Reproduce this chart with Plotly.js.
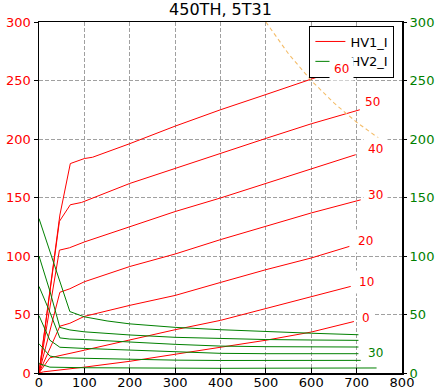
<!DOCTYPE html>
<html>
<head>
<meta charset="utf-8">
<script src="https://cdn.plot.ly/plotly-3.0.1.min.js"></script>
<style>html,body{margin:0;padding:0;background:#fff;}#chart{width:440px;height:391px;}</style>
</head>
<body>
<div id="chart"></div>
<script>
// HV1_I curves (red, left axis)
const r0x  = [0, 10, 100, 200, 300, 400, 500, 600, 694];
const r0y  = [0, 1, 5, 10, 16, 22, 28, 35, 44];
const r10x = [0, 24, 100, 200, 300, 400, 500, 600, 687];
const r10y = [0, 13, 19.5, 28.5, 37, 45, 55, 65, 74];
const r20x = [0, 46, 68, 100, 200, 300, 400, 500, 600, 684];
const r20y = [0, 40, 42.5, 48.4, 57.8, 66.3, 77.4, 88.3, 98.3, 108.2];
const r30x = [0, 46, 68, 100, 200, 300, 400, 500, 600, 709];
const r30y = [0, 69, 72, 78, 91, 101.7, 114, 125.3, 136.8, 148];
const r40x = [0, 45, 67, 100, 200, 300, 400, 500, 600, 698];
const r40y = [0, 105, 107, 112, 125, 138, 149.6, 162, 174, 186.6];
const r50x = [0, 45, 69, 94, 200, 300, 400, 500, 600, 707];
const r50y = [0, 129.6, 143.8, 145.8, 162, 175, 188, 200.5, 213, 225];
const r60x = [0, 46, 69, 100, 118, 200, 300, 400, 500, 600, 629];
const r60y = [0, 135, 179, 183.3, 184.4, 196, 211, 225, 238, 251, 255];

// HV2_I curves (green, right axis)
const g1x = [0, 24, 46, 68, 100, 150, 200, 300, 400, 500, 600, 704];
const g1y = [132, 104, 77, 52.5, 48, 44.5, 42, 39, 37, 35.3, 34, 32.7];
const g2x = [0, 24, 46, 68, 100, 150, 200, 300, 400, 500, 600, 704];
const g2y = [100, 70, 39, 36.8, 35.2, 33.8, 32.5, 30.5, 29.3, 28.6, 28.2, 27.9];
const g3x = [0, 24, 46, 68, 100, 150, 200, 300, 400, 500, 600, 704];
const g3y = [74, 52, 30, 29, 28.6, 27.8, 26.5, 24.5, 23, 22.5, 22.3, 22.2];
const g4x = [0, 24, 46, 68, 100, 150, 200, 300, 400, 500, 600, 704];
const g4y = [49, 28, 22, 21.5, 21, 20.3, 19.5, 17.8, 16.8, 16.5, 16.5, 16.5];
const g5x = [0, 24, 46, 100, 200, 300, 400, 500, 600, 709];
const g5y = [25, 14.5, 13, 12.5, 11.7, 11, 10.7, 10.6, 10.7, 10.8];
const g6x = [0, 24, 100, 200, 300, 400, 500, 600, 744];
const g6y = [8, 5, 4.5, 4.2, 4, 4, 4.1, 4.2, 4.3];

// dissipation limit (dashed orange)
const limX = [500, 550, 600, 650, 700, 750, 766];
const limY = [300, 272.7, 250, 230.8, 214.3, 200, 195.8];

// curve labels
const labelText  = ['60', '50', '40', '30', '20', '10', '0', '30'];
const labelX     = [666, 736, 741, 741, 719, 721, 721, 741];
const labelY     = [260, 232, 191.6, 152.4, 113, 78, 47.3, 17.4];
const labelColor = ['red', 'red', 'red', 'red', 'red', 'red', 'red', 'green'];

const redSets = [[r60x, r60y], [r50x, r50y], [r40x, r40y], [r30x, r30y], [r20x, r20y], [r10x, r10y], [r0x, r0y]];
const greenSets = [[g1x, g1y], [g2x, g2y], [g3x, g3y], [g4x, g4y], [g5x, g5y], [g6x, g6y]];

const traces = [];
redSets.forEach((s, i) => traces.push({
  x: s[0], y: s[1], type: 'scatter', mode: 'lines', name: 'HV1_I',
  showlegend: i === 0,
  line: {color: '#ff0000', width: 1}, yaxis: 'y'
}));
greenSets.forEach((s, i) => traces.push({
  x: s[0], y: s[1], type: 'scatter', mode: 'lines', name: 'HV2_I',
  showlegend: i === 0,
  line: {color: '#008000', width: 1}, yaxis: 'y2'
}));
traces.push({
  x: limX, y: limY, type: 'scatter', mode: 'lines', showlegend: false,
  line: {color: '#f4bd6a', width: 1.1, dash: '4px,3px'}, yaxis: 'y'
});

const annotations = labelText.map((t, i) => ({
  x: labelX[i], y: labelY[i], xref: 'x', yref: 'y', text: t, showarrow: false,
  xanchor: 'center', yanchor: 'middle',
  font: {family: 'DejaVu Sans', size: 12, color: labelColor[i]},
  bgcolor: '#ffffff', borderpad: 4
}));

const gridStyle = {showgrid: true, gridcolor: '#a0a0a0', gridwidth: 1, griddash: '4px,2px'};

const layout = {
  width: 440, height: 391,
  margin: {l: 39, r: 38, t: 22, b: 18, pad: 0},
  paper_bgcolor: '#ffffff', plot_bgcolor: '#ffffff',
  font: {family: 'DejaVu Sans', size: 13, color: '#000'},
  title: {text: '450TH, 5T31', font: {family: 'DejaVu Sans', size: 16, color: '#000'},
          x: 0.5, xref: 'paper', y: 0.975, yref: 'container', yanchor: 'middle'},
  xaxis: Object.assign({
    range: [0, 800], tick0: 0, dtick: 100, ticks: 'inside', ticklen: 5, tickcolor: '#000',
    showline: true, mirror: true, linecolor: '#000', linewidth: 1.5, zeroline: false,
    ticklabelstandoff: -3,
    tickfont: {family: 'DejaVu Sans', size: 13, color: '#000'}
  }, gridStyle),
  yaxis: Object.assign({
    range: [0, 300], tick0: 0, dtick: 50, ticks: 'outside', ticklen: 4, tickcolor: '#000',
    showline: true, mirror: true, linecolor: '#000', linewidth: 1.5, zeroline: false,
    tickfont: {family: 'DejaVu Sans', size: 13, color: '#ff0000'}
  }, gridStyle),
  yaxis2: {
    range: [0, 300], tick0: 0, dtick: 50, overlaying: 'y', side: 'right',
    ticks: 'outside', ticklen: 4, tickcolor: '#000', showgrid: false, zeroline: false,
    showline: false,
    tickfont: {family: 'DejaVu Sans', size: 13, color: '#008000'}
  },
  yaxis3: {
    range: [0, 300], tick0: 0, dtick: 50, overlaying: 'y', side: 'right',
    ticks: 'inside', ticklen: 4, tickcolor: '#000', showgrid: false, zeroline: false,
    showline: false, showticklabels: false
  },
  legend: {
    x: 0.979, y: 0.99, xanchor: 'right', yanchor: 'top',
    bgcolor: '#ffffff', bordercolor: '#000', borderwidth: 1, tracegroupgap: 0,
    font: {family: 'DejaVu Sans', size: 13, color: '#000'}
  },
  annotations: annotations
};

Plotly.newPlot('chart', traces, layout, {displayModeBar: false, staticPlot: true});
</script>
</body>
</html>
